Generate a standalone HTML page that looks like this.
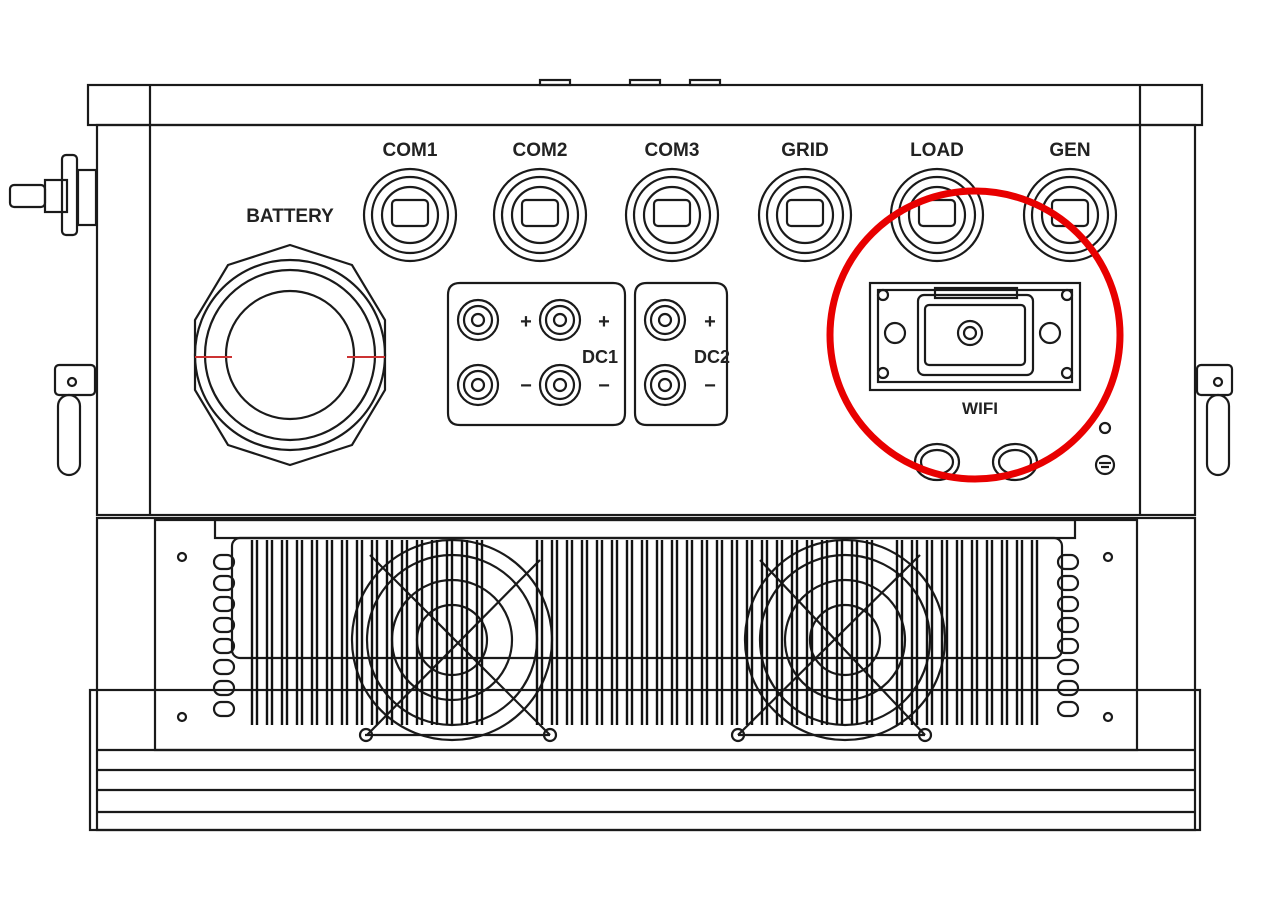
<!DOCTYPE html>
<html><head><meta charset="utf-8"><style>
html,body{margin:0;padding:0;background:#fff;}
svg{display:block;}
text{font-family:"Liberation Sans",sans-serif;font-weight:bold;fill:#222;}
</style></head><body>
<svg id="s" width="1270" height="914" viewBox="0 0 1270 914" xmlns="http://www.w3.org/2000/svg">
<g fill="none" stroke="#1a1a1a" stroke-width="2.2">
<rect x="540" y="80" width="30" height="5"/><rect x="630" y="80" width="30" height="5"/><rect x="690" y="80" width="30" height="5"/>
<rect x="88" y="85" width="1114" height="40"/>
<line x1="150" y1="85" x2="150" y2="125"/><line x1="1140" y1="85" x2="1140" y2="125"/>
<rect x="97" y="125" width="1098" height="390"/>
<line x1="150" y1="125" x2="150" y2="515"/><line x1="1140" y1="125" x2="1140" y2="515"/>
<rect x="97" y="518" width="1098" height="312"/>
<rect x="90" y="690" width="1110" height="140"/>
<rect x="155" y="520" width="982" height="230"/>
<line x1="97" y1="750" x2="1195" y2="750"/>
<line x1="97" y1="770" x2="1195" y2="770"/>
<line x1="97" y1="790" x2="1195" y2="790"/>
<line x1="97" y1="812" x2="1195" y2="812"/>
<rect x="215" y="520" width="860" height="18"/>
<rect x="232" y="538" width="830" height="120" rx="8"/>
<circle cx="452" cy="640" r="100"/><circle cx="452" cy="640" r="85"/><circle cx="452" cy="640" r="60"/><circle cx="452" cy="640" r="35"/>
<line x1="365" y1="735" x2="550" y2="735"/>
<line x1="367" y1="735" x2="540" y2="560"/><line x1="550" y1="735" x2="370" y2="555"/>
<circle cx="845" cy="640" r="100"/><circle cx="845" cy="640" r="85"/><circle cx="845" cy="640" r="60"/><circle cx="845" cy="640" r="35"/>
<line x1="738" y1="735" x2="925" y2="735"/>
<line x1="738" y1="735" x2="920" y2="555"/><line x1="925" y1="735" x2="760" y2="560"/>
<circle cx="366" cy="735" r="6"/><circle cx="550" cy="735" r="6"/><circle cx="738" cy="735" r="6"/><circle cx="925" cy="735" r="6"/>
<g id="slots"></g>
<circle cx="182" cy="557" r="4"/><circle cx="182" cy="717" r="4"/><circle cx="1108" cy="557" r="4"/><circle cx="1108" cy="717" r="4"/>
</g>
<g id="fins" stroke="#111" stroke-width="2.4"></g>
<g fill="none" stroke="#1a1a1a" stroke-width="2.2">
<g id="glands"></g>
<polygon points="290,245 352,265 385,320 385,390 352,445 290,465 228,445 195,390 195,320 228,265"/>
<circle cx="290" cy="355" r="95"/><circle cx="290" cy="355" r="85"/><circle cx="290" cy="355" r="64"/>
<path d="M448,295 q0,-12 12,-12 h153 q12,0 12,12 v118 q0,12 -12,12 h-153 q-12,0 -12,-12z"/>
<path d="M635,295 q0,-12 12,-12 h68 q12,0 12,12 v118 q0,12 -12,12 h-68 q-12,0 -12,-12z"/>
<g id="dc"></g>
<rect x="870" y="283" width="210" height="107"/>
<rect x="878" y="290" width="194" height="92"/>
<rect x="918" y="295" width="115" height="80" rx="6"/>
<rect x="935" y="288" width="82" height="10"/>
<rect x="925" y="305" width="100" height="60" rx="4"/>
<circle cx="970" cy="333" r="12"/><circle cx="970" cy="333" r="6"/>
<circle cx="895" cy="333" r="10"/><circle cx="1050" cy="333" r="10"/>
<circle cx="883" cy="295" r="5"/><circle cx="1067" cy="295" r="5"/><circle cx="883" cy="373" r="5"/><circle cx="1067" cy="373" r="5"/>
<ellipse cx="937" cy="462" rx="22" ry="18"/><ellipse cx="937" cy="462" rx="16" ry="12"/>
<ellipse cx="1015" cy="462" rx="22" ry="18"/><ellipse cx="1015" cy="462" rx="16" ry="12"/>
<circle cx="1105" cy="428" r="5"/><circle cx="1105" cy="465" r="9"/>
<line x1="1099" y1="463" x2="1111" y2="463"/><line x1="1101" y1="467" x2="1109" y2="467"/>
<rect x="55" y="365" width="40" height="30" rx="4"/><rect x="58" y="395" width="22" height="80" rx="11"/>
<rect x="1197" y="365" width="35" height="30" rx="4"/><rect x="1207" y="395" width="22" height="80" rx="11"/>
<circle cx="72" cy="382" r="4"/><circle cx="1218" cy="382" r="4"/>
<rect x="10" y="185" width="35" height="22" rx="4"/>
<rect x="45" y="180" width="22" height="32"/>
<rect x="62" y="155" width="15" height="80" rx="4"/>
<rect x="78" y="170" width="18" height="55"/>
</g>
<line x1="195" y1="357" x2="232" y2="357" stroke="#c33" stroke-width="2"/>
<line x1="347" y1="357" x2="385" y2="357" stroke="#c33" stroke-width="2"/>
<text x="290" y="222" font-size="19" text-anchor="middle">BATTERY</text>
<text x="410" y="156" font-size="19" text-anchor="middle">COM1</text>
<text x="540" y="156" font-size="19" text-anchor="middle">COM2</text>
<text x="672" y="156" font-size="19" text-anchor="middle">COM3</text>
<text x="805" y="156" font-size="19" text-anchor="middle">GRID</text>
<text x="937" y="156" font-size="19" text-anchor="middle">LOAD</text>
<text x="1070" y="156" font-size="19" text-anchor="middle">GEN</text>
<text x="600" y="363" font-size="18" text-anchor="middle">DC1</text>
<text x="712" y="363" font-size="18" text-anchor="middle">DC2</text>
<text x="980" y="414" font-size="17" text-anchor="middle">WIFI</text>
<text x="526" y="328" font-size="20" text-anchor="middle">+</text>
<text x="604" y="328" font-size="20" text-anchor="middle">+</text>
<text x="710" y="328" font-size="20" text-anchor="middle">+</text>
<text x="526" y="392" font-size="20" text-anchor="middle">−</text>
<text x="604" y="392" font-size="20" text-anchor="middle">−</text>
<text x="710" y="392" font-size="20" text-anchor="middle">−</text>
<ellipse cx="975" cy="335" rx="145" ry="144" fill="none" stroke="#e80000" stroke-width="7"/>
<script>
var ns="http://www.w3.org/2000/svg";
function el(p,t,a){var e=document.createElementNS(ns,t);for(var k in a)e.setAttribute(k,a[k]);document.getElementById(p).appendChild(e);}
[410,540,672,805,937,1070].forEach(function(x){
 el("glands","circle",{cx:x,cy:215,r:46});el("glands","circle",{cx:x,cy:215,r:38});
 el("glands","circle",{cx:x,cy:215,r:28});el("glands","rect",{x:x-18,y:200,width:36,height:26,rx:4});
});
[[478,320],[560,320],[665,320],[478,385],[560,385],[665,385]].forEach(function(p){
 el("dc","circle",{cx:p[0],cy:p[1],r:20});el("dc","circle",{cx:p[0],cy:p[1],r:14});el("dc","circle",{cx:p[0],cy:p[1],r:6});
});
for(var y=555;y<=715;y+=21){el("slots","rect",{x:214,y:y,width:20,height:14,rx:7});el("slots","rect",{x:1058,y:y,width:20,height:14,rx:7});}
for(var x=252;x<=1040;x+=15){
 if((x>480&&x<535)||(x>880&&x<890))continue;
 el("fins","line",{x1:x,y1:540,x2:x,y2:725});el("fins","line",{x1:x+5,y1:540,x2:x+5,y2:725});
}
</script>
</svg>
</body></html>
